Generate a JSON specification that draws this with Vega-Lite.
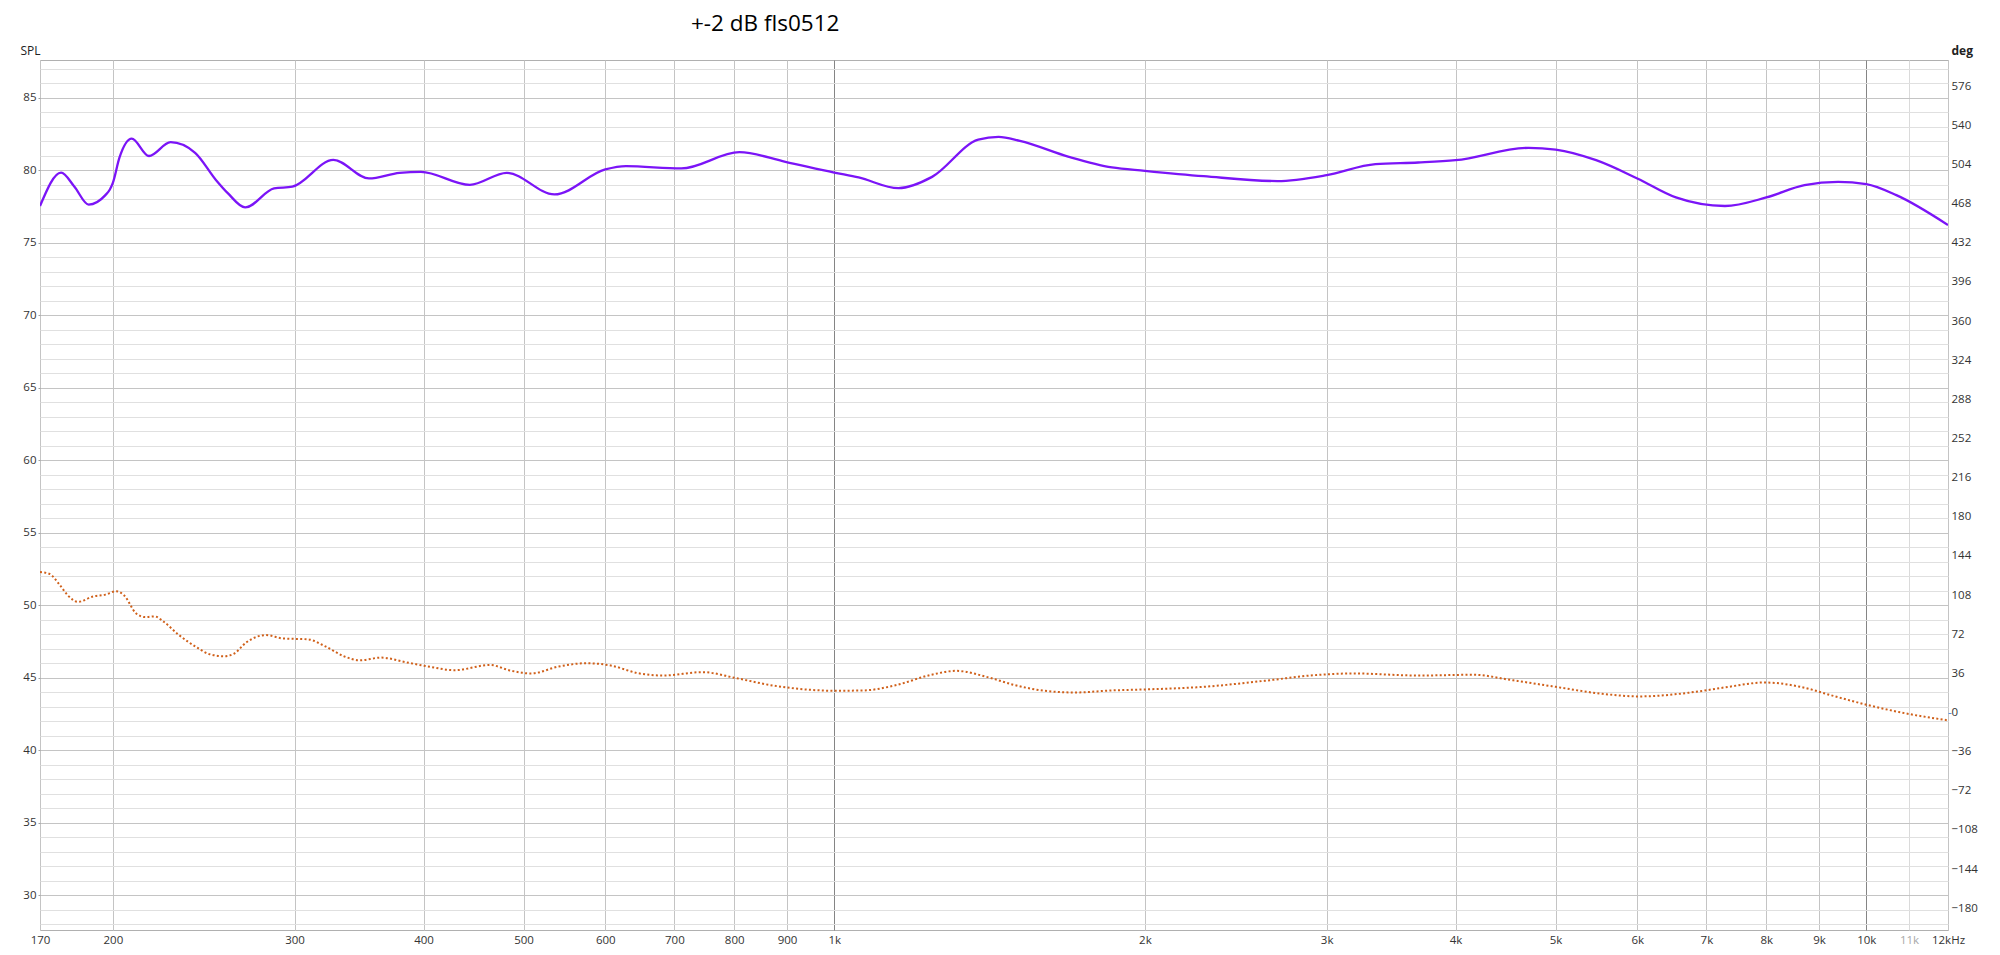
{
  "$schema": "https://vega.github.io/schema/vega-lite/v6.json",
  "width": 1908,
  "height": 870,
  "autosize": {"type": "none"},
  "padding": {"left": 40, "top": 60, "right": 52, "bottom": 25},
  "background": "white",
  "title": {"text": "+-2 dB fls0512", "anchor": "start", "frame": "group", "dx": 651, "dy": 22, "fontSize": 22.5, "fontWeight": "normal", "font": "Open Sans", "color": "#000000", "baseline": "alphabetic", "offset": 13},
  "datasets": {
    "spl": [
      {"f": 170, "spl": 77.55}, {"f": 178.2, "spl": 79.85}, {"f": 183.5, "spl": 78.9}, {"f": 189.5, "spl": 77.65}, {"f": 196.7, "spl": 78.3}, {"f": 198.6, "spl": 78.67}, {"f": 200, "spl": 79.15}, {"f": 203, "spl": 80.9}, {"f": 208.6, "spl": 82.2}, {"f": 216.8, "spl": 81.0}, {"f": 227.5, "spl": 81.95}, {"f": 240.3, "spl": 81.22}, {"f": 251.7, "spl": 79.35}, {"f": 258.6, "spl": 78.42}, {"f": 268.7, "spl": 77.45}, {"f": 286.6, "spl": 78.76}, {"f": 298.5, "spl": 78.88}, {"f": 327.1, "spl": 80.73}, {"f": 354.1, "spl": 79.45}, {"f": 379.1, "spl": 79.84}, {"f": 397.7, "spl": 79.91}, {"f": 443.6, "spl": 79.01}, {"f": 481.6, "spl": 79.84}, {"f": 535.7, "spl": 78.35}, {"f": 600, "spl": 80.07}, {"f": 628.4, "spl": 80.3}, {"f": 710.9, "spl": 80.14}, {"f": 809.4, "spl": 81.26}, {"f": 896.8, "spl": 80.6}, {"f": 1000, "spl": 79.86}, {"f": 1056, "spl": 79.52}, {"f": 1154, "spl": 78.78}, {"f": 1244, "spl": 79.56}, {"f": 1379, "spl": 82.13}, {"f": 1443, "spl": 82.32}, {"f": 1513, "spl": 82.04}, {"f": 1688, "spl": 80.94}, {"f": 1858, "spl": 80.21}, {"f": 2000, "spl": 79.98}, {"f": 2280, "spl": 79.61}, {"f": 2688, "spl": 79.27}, {"f": 3000, "spl": 79.68}, {"f": 3345, "spl": 80.44}, {"f": 3680, "spl": 80.55}, {"f": 4000, "spl": 80.71}, {"f": 4708, "spl": 81.56}, {"f": 5000, "spl": 81.44}, {"f": 5473, "spl": 80.71}, {"f": 6000, "spl": 79.45}, {"f": 6539, "spl": 78.14}, {"f": 7296, "spl": 77.55}, {"f": 8000, "spl": 78.14}, {"f": 8712, "spl": 78.99}, {"f": 9392, "spl": 79.22}, {"f": 10000, "spl": 79.06}, {"f": 10694, "spl": 78.3}, {"f": 12000, "spl": 76.24}
    ],
    "phase": [
      {"f": 170, "deg": 129.2}, {"f": 173.5, "deg": 127.6}, {"f": 177.8, "deg": 116.9}, {"f": 180.8, "deg": 107.9}, {"f": 185.0, "deg": 101.7}, {"f": 191.4, "deg": 106.7}, {"f": 196.7, "deg": 108.4}, {"f": 201.4, "deg": 111.5}, {"f": 205.0, "deg": 107.9}, {"f": 210.7, "deg": 91.1}, {"f": 215.1, "deg": 87.7}, {"f": 219.5, "deg": 88.4}, {"f": 224.0, "deg": 83.5}, {"f": 231.8, "deg": 71.2}, {"f": 241.5, "deg": 59.6}, {"f": 248.2, "deg": 53.6}, {"f": 256.8, "deg": 51.7}, {"f": 262.1, "deg": 54.1}, {"f": 269.4, "deg": 64.5}, {"f": 281.4, "deg": 71.2}, {"f": 292.4, "deg": 68.1}, {"f": 308.9, "deg": 67.3}, {"f": 321.8, "deg": 60.5}, {"f": 335.3, "deg": 51.5}, {"f": 346.9, "deg": 48.0}, {"f": 363.9, "deg": 50.5}, {"f": 384.2, "deg": 46.3}, {"f": 405.8, "deg": 42.0}, {"f": 428.7, "deg": 38.9}, {"f": 464.1, "deg": 43.7}, {"f": 484.8, "deg": 38.7}, {"f": 508.5, "deg": 35.9}, {"f": 540.8, "deg": 42.3}, {"f": 575.1, "deg": 45.3}, {"f": 607.4, "deg": 43.2}, {"f": 645.9, "deg": 36.1}, {"f": 682.2, "deg": 34.0}, {"f": 745.5, "deg": 37.1}, {"f": 803.6, "deg": 31.6}, {"f": 872.1, "deg": 24.8}, {"f": 946.6, "deg": 20.9}, {"f": 1000, "deg": 20.0}, {"f": 1068, "deg": 20.3}, {"f": 1144, "deg": 24.8}, {"f": 1242, "deg": 34.7}, {"f": 1312, "deg": 38.3}, {"f": 1413, "deg": 32.1}, {"f": 1492, "deg": 25.5}, {"f": 1598, "deg": 20.0}, {"f": 1712, "deg": 18.4}, {"f": 1858, "deg": 20.3}, {"f": 2000, "deg": 21.2}, {"f": 2280, "deg": 23.6}, {"f": 2615, "deg": 29.2}, {"f": 2917, "deg": 34.3}, {"f": 3188, "deg": 35.9}, {"f": 3680, "deg": 34.0}, {"f": 4163, "deg": 34.7}, {"f": 4519, "deg": 30.0}, {"f": 5000, "deg": 23.6}, {"f": 5548, "deg": 17.2}, {"f": 6025, "deg": 14.8}, {"f": 6810, "deg": 18.8}, {"f": 7296, "deg": 23.1}, {"f": 7972, "deg": 27.6}, {"f": 8595, "deg": 24.0}, {"f": 9329, "deg": 14.8}, {"f": 10000, "deg": 7.2}, {"f": 10989, "deg": -1.3}, {"f": 12000, "deg": -7.2}
    ]
  },
  "encoding": {
    "x": {
      "field": "f", "type": "quantitative",
      "scale": {"type": "log", "domain": [170, 12000], "nice": false},
      "axis": {
        "orient": "bottom", "title": null, "domain": false, "ticks": false,
        "values": [170, 200, 300, 400, 500, 600, 700, 800, 900, 1000, 2000, 3000, 4000, 5000, 6000, 7000, 8000, 9000, 10000, 11000, 12000],
        "labelExpr": "datum.value == 12000 ? '12kHz' : (datum.value >= 1000 ? (datum.value / 1000) + 'k' : '' + datum.value)",
        "labelFont": "Open Sans", "labelFontSize": 11.5, "labelPadding": 4, "labelOverlap": false, "labelFlush": false,
        "labelColor": {"expr": "datum.value == 11000 ? '#a8a8a8' : '#333333'"},
        "grid": true,
        "gridColor": {"expr": "(datum.value == 1000 || datum.value == 10000) ? '#858585' : (datum.value == 11000 ? '#dadada' : '#c4c4c4')"},
        "gridWidth": 1
      }
    }
  },
  "layer": [
    {
      "data": {"name": "spl"},
      "mark": {"type": "line", "color": "#7b14f7", "strokeWidth": 2.3, "interpolate": "monotone", "clip": true},
      "encoding": {
        "y": {
          "field": "spl", "type": "quantitative",
          "scale": {"domain": [27.62, 87.62], "nice": false, "zero": false},
          "axis": {
            "orient": "left", "domain": false,
            "values": [28, 29, 30, 31, 32, 33, 34, 35, 36, 37, 38, 39, 40, 41, 42, 43, 44, 45, 46, 47, 48, 49, 50, 51, 52, 53, 54, 55, 56, 57, 58, 59, 60, 61, 62, 63, 64, 65, 66, 67, 68, 69, 70, 71, 72, 73, 74, 75, 76, 77, 78, 79, 80, 81, 82, 83, 84, 85, 86, 87],
            "labelExpr": "datum.value % 5 == 0 ? datum.label : ''",
            "labelFont": "Open Sans", "labelFontSize": 11.5, "labelColor": "#333333", "labelPadding": 2, "labelOverlap": false,
            "tickSize": 2, "tickColor": "#a0a0a0",
            "tickOpacity": {"expr": "datum.value % 5 == 0 ? 1 : 0"},
            "grid": true,
            "gridColor": {"expr": "datum.value % 5 == 0 ? '#c4c4c4' : '#e0e0e0'"},
            "title": "SPL", "titleAngle": 0, "titleAlign": "left", "titleBaseline": "alphabetic",
            "titleX": -20, "titleY": -6, "titleFont": "Open Sans", "titleFontSize": 12, "titleFontWeight": "normal", "titleColor": "#222222"
          }
        }
      }
    },
    {
      "data": {"name": "phase"},
      "mark": {"type": "line", "color": "#d0601a", "strokeWidth": 2, "strokeDash": [2, 2.3], "interpolate": "monotone", "clip": true},
      "encoding": {
        "y": {
          "field": "deg", "type": "quantitative",
          "scale": {"domain": [-200, 600], "nice": false, "zero": false},
          "axis": {
            "orient": "right", "domain": false, "grid": false,
            "values": [-180, -144, -108, -72, -36, 0, 36, 72, 108, 144, 180, 216, 252, 288, 324, 360, 396, 432, 468, 504, 540, 576],
            "labelFont": "Open Sans", "labelFontSize": 11.5, "labelColor": "#333333", "labelPadding": 0, "labelOverlap": false,
            "tickSize": 3,
            "tickColor": {"expr": "datum.value == 0 ? '#5b8fe0' : 'transparent'"},
            "title": "deg", "titleAngle": 0, "titleAlign": "left", "titleBaseline": "alphabetic",
            "titleX": 3, "titleY": -6, "titleFont": "Open Sans", "titleFontSize": 12, "titleFontWeight": "bold", "titleColor": "#222222"
          }
        }
      }
    }
  ],
  "resolve": {"scale": {"y": "independent"}},
  "config": {
    "view": {"stroke": "#b0b0b0", "strokeWidth": 1},
    "font": "Open Sans"
  }
}
